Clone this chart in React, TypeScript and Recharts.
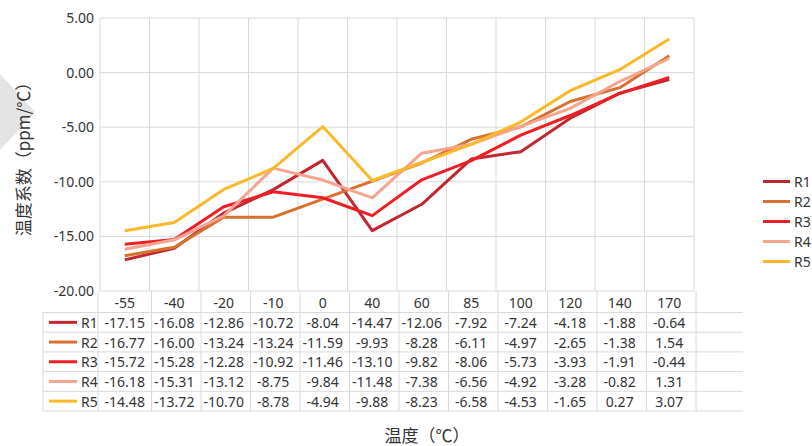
import React from "react"
import { LineChart, Line, XAxis, YAxis, CartesianGrid, Legend } from "recharts"

// 温度点（℃）
const temps = ["-55", "-40", "-20", "-10", "0", "40", "60", "85", "100", "120", "140", "170"]
const r1 = [-17.15, -16.08, -12.86, -10.72, -8.04, -14.47, -12.06, -7.92, -7.24, -4.18, -1.88, -0.64]
const r2 = [-16.77, -16.0, -13.24, -13.24, -11.59, -9.93, -8.28, -6.11, -4.97, -2.65, -1.38, 1.54]
const r3 = [-15.72, -15.28, -12.28, -10.92, -11.46, -13.1, -9.82, -8.06, -5.73, -3.93, -1.91, -0.44]
const r4 = [-16.18, -15.31, -13.12, -8.75, -9.84, -11.48, -7.38, -6.56, -4.92, -3.28, -0.82, 1.31]
const r5 = [-14.48, -13.72, -10.7, -8.78, -4.94, -9.88, -8.23, -6.58, -4.53, -1.65, 0.27, 3.07]
const seriesNames = ["R1", "R2", "R3", "R4", "R5"]
const seriesValues = [r1, r2, r3, r4, r5]
const yTicks = [5, 0, -5, -10, -15, -20]

const colors = ["#C0282F", "#D8702F", "#EE1E26", "#F5A48E", "#FBB82A"]

const data = temps.map((t, i) => {
  const row: Record<string, string | number> = { temp: t }
  seriesNames.forEach((n, k) => (row[n] = seriesValues[k][i]))
  return row
})

const W = 812
const H = 446
const PLOT_L = 100
const PLOT_R = 743
const PLOT_T = 18
const PLOT_B = 291
const TABLE_L = 43
const HEAD_B = 312.5
const ROW_H = 19.7
const GRID = "#D9D9D9"
const TEXT = "#333333"
const FONT = '"Noto Sans", "Noto Sans CJK SC", sans-serif'

// x 轴刻度 = 数据表的一列
function TableTick(props: any) {
  const { x, index, payload } = props
  const bw = (PLOT_R - PLOT_L) / temps.length
  const tableB = HEAD_B + ROW_H * seriesNames.length
  return (
    <g fontFamily={FONT} fontSize={14} fill={TEXT}>
      {index === 0 && (
        <g>
          <line x1={x - bw / 2} x2={x - bw / 2} y1={PLOT_B} y2={tableB} stroke={GRID} />
          <line x1={TABLE_L} x2={TABLE_L} y1={HEAD_B} y2={tableB} stroke={GRID} />
          {seriesNames.map((_, k) => (
            <line key={k} x1={TABLE_L} x2={PLOT_R} y1={HEAD_B + ROW_H * k} y2={HEAD_B + ROW_H * k} stroke={GRID} />
          ))}
          <line x1={TABLE_L} x2={PLOT_R} y1={tableB} y2={tableB} stroke={GRID} />
          {seriesNames.map((n, k) => (
            <g key={n}>
              <line
                x1={TABLE_L + 6}
                x2={TABLE_L + 34}
                y1={HEAD_B + ROW_H * (k + 0.5)}
                y2={HEAD_B + ROW_H * (k + 0.5)}
                stroke={colors[k]}
                strokeWidth={3}
              />
              <text x={TABLE_L + 38} y={HEAD_B + ROW_H * (k + 0.5)} dominantBaseline="central">
                {n}
              </text>
            </g>
          ))}
        </g>
      )}
      <line x1={x + bw / 2} x2={x + bw / 2} y1={PLOT_B} y2={tableB} stroke={GRID} />
      <text x={x} y={(PLOT_B + HEAD_B) / 2 + 1} textAnchor="middle" dominantBaseline="central">
        {payload.value}
      </text>
      {seriesValues.map((vals, k) => (
        <text key={k} x={x} y={HEAD_B + ROW_H * (k + 0.5)} textAnchor="middle" dominantBaseline="central">
          {vals[index].toFixed(2)}
        </text>
      ))}
    </g>
  )
}

function LegendBox({ payload }: any) {
  return (
    <div style={{ fontFamily: FONT, fontSize: 14, color: TEXT }}>
      {(payload || []).map((p: any) => (
        <div key={p.value} style={{ display: "flex", alignItems: "center", height: 20 }}>
          <span style={{ width: 27, height: 3, background: p.color, marginRight: 4 }} />
          <span>{p.value}</span>
        </div>
      ))}
    </div>
  )
}

export default function App() {
  return (
    <div style={{ position: "absolute", left: 0, top: 0, width: W, height: H, background: "#fff" }}>
      <LineChart width={W} height={H} data={data} margin={{ top: PLOT_T, right: W - PLOT_R, bottom: 35, left: 40 }}>
        <CartesianGrid
          stroke={GRID}
          verticalCoordinatesGenerator={({ offset }: any) =>
            temps.map((_, i) => offset.left + (i * offset.width) / temps.length).concat(offset.left + offset.width)
          }
        />
        <XAxis
          dataKey="temp"
          scale="band"
          height={120}
          axisLine={false}
          tickLine={false}
          tickSize={0}
          tickMargin={0}
          interval={0}
          tick={<TableTick />}
          label={{
            content: () => (
              <text
                x={427}
                y={434}
                textAnchor="middle"
                dominantBaseline="central"
                fontFamily='"Noto Sans CJK SC", sans-serif'
                fontSize={17}
                fill={TEXT}
              >
                温度（℃）
              </text>
            ),
          }}
        />
        <YAxis
          width={60}
          domain={[-20, 5]}
          ticks={yTicks}
          axisLine={false}
          tickLine={false}
          tickSize={0}
          tickMargin={6}
          tickFormatter={(v: number) => v.toFixed(2)}
          tick={{ fontFamily: FONT, fontSize: 14, fill: TEXT }}
          label={{
            content: () => (
              <g>
                <polygon points="0,74 35,112 0,150" fill="#E4E4E4" />
                <text
                  x={22}
                  y={155}
                  transform="rotate(-90 22 155)"
                  textAnchor="middle"
                  dominantBaseline="central"
                  fontFamily='"Noto Sans CJK SC", sans-serif'
                  fontSize={17}
                  fill={TEXT}
                >
                  温度系数（ppm/℃）
                </text>
              </g>
            ),
          }}
        />
        <Legend
          layout="horizontal"
          align="right"
          verticalAlign="middle"
          content={<LegendBox />}
          wrapperStyle={{ left: 763, top: 171, width: 49, right: "auto", bottom: "auto" }}
        />
        {seriesNames.map((n, k) => (
          <Line
            key={n}
            dataKey={n}
            stroke={colors[k]}
            strokeWidth={3}
            dot={false}
            activeDot={false}
            strokeLinejoin="round"
            isAnimationActive={false}
          />
        ))}
      </LineChart>
    </div>
  )
}
